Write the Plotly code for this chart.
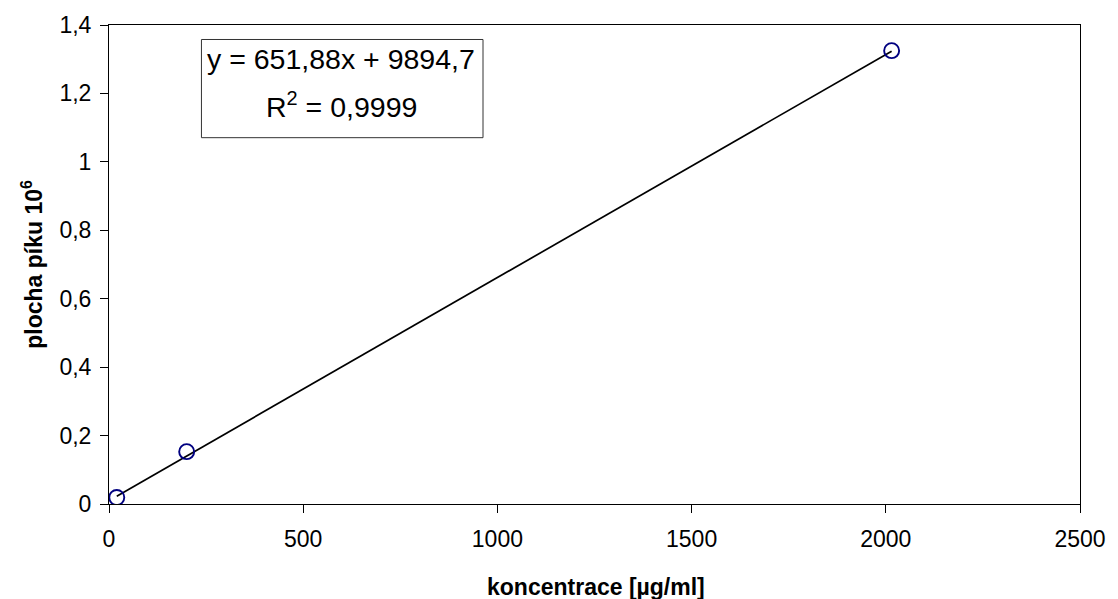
import plotly.graph_objects as go

# data
konc = [20, 200, 2015]            # µg/ml
plocha = [0.019, 0.153, 1.325]    # peak area, 10^6

# trendline coefficients (as displayed)
slope = 651.88
intercept = 9894.7
r2_text = "0,9999"

x_ticks = [0, 500, 1000, 1500, 2000, 2500]
y_ticks = [0, 0.2, 0.4, 0.6, 0.8, 1.0, 1.2, 1.4]
y_tick_text = ["0", "0,2", "0,4", "0,6", "0,8", "1", "1,2", "1,4"]

trend_x = [min(konc), max(konc)]
trend_y = [(slope * v + intercept) / 1e6 for v in trend_x]

FONT = "Liberation Sans, Arial, sans-serif"

fig = go.Figure()
fig.add_trace(go.Scatter(x=trend_x, y=trend_y, mode="lines",
                         line=dict(color="black", width=1.7),
                         showlegend=False, hoverinfo="skip"))
fig.add_trace(go.Scatter(x=konc, y=plocha, mode="markers",
                         marker=dict(symbol="circle-open", size=15, color="#000080",
                                     line=dict(width=1.9, color="#000080")),
                         showlegend=False))

L, R, T, B = 108.5, 38, 24.5, 95
W, H = 1118, 599
pw = W - L - R
ph = H - T - B

def px(xp):
    return (xp - L) / pw

def py(yp):
    return (H - B - yp) / ph

fig.update_layout(
    width=W, height=H,
    margin=dict(l=L, r=R, t=T, b=B, pad=0),
    paper_bgcolor="white", plot_bgcolor="white",
    font=dict(family=FONT, size=23, color="black"),
    xaxis=dict(range=[0, 2500], tickvals=x_ticks, ticks="outside", ticklen=8,
               tickcolor="black", showline=True, linecolor="black", linewidth=1,
               mirror=True, showgrid=False, zeroline=False,
               tickfont=dict(size=23), ticklabelstandoff=6),
    yaxis=dict(range=[0, 1.4], tickvals=y_ticks, ticktext=y_tick_text,
               ticks="outside", ticklen=8, tickcolor="black", showline=True,
               linecolor="black", linewidth=1, mirror=True, showgrid=False,
               zeroline=False, tickfont=dict(size=23), ticklabelstandoff=4),
    shapes=[dict(type="rect", xref="paper", yref="paper",
                 x0=px(201), x1=px(482.7), y0=py(137.3), y1=py(39),
                 line=dict(color="#333333", width=1), fillcolor="white")],
    annotations=[
        dict(text="y = 651,88x + 9894,7", xref="paper", yref="paper",
             x=px(341), y=py(58.5), xanchor="center", yanchor="middle",
             showarrow=False, font=dict(size=28.5)),
        dict(text="R<sup>2</sup> = " + r2_text, xref="paper", yref="paper",
             x=px(341), y=py(105), xanchor="center", yanchor="middle",
             showarrow=False, font=dict(size=28.5)),
        dict(text="<b>koncentrace [µg/ml]</b>", xref="paper", yref="paper",
             x=px(595.5), y=py(587), xanchor="center", yanchor="middle",
             showarrow=False, font=dict(size=23)),
        dict(text="<b>plocha píku 10<sup>6</sup></b>", xref="paper", yref="paper",
             x=px(32), y=py(264), xanchor="center", yanchor="middle",
             textangle=-90, showarrow=False, font=dict(size=23)),
    ],
)

fig.write_html("out.html")
